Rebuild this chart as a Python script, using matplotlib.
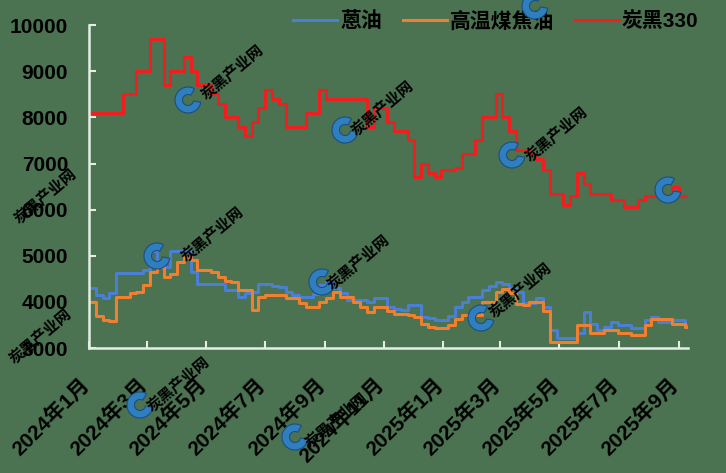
import numpy as np
import pandas as pd
import matplotlib
matplotlib.use('Agg')
import matplotlib.pyplot as plt
from matplotlib.patches import Wedge
from matplotlib.ticker import FuncFormatter
from matplotlib.transforms import ScaledTranslation
import matplotlib.dates as mdates

# --- data (weekly) ---
start_date = '2024-01-01'
series_names = ['蒽油', '高温煤焦油', '炭黑330']

anthracene_oil = [4300, 4150, 4080, 4200, 4620, 4620, 4620, 4620, 4700, 5100,
                  4800, 4750, 5100, 5100, 5100, 4650, 4400, 4400, 4400, 4400,
                  4260, 4260, 4110, 4200, 4220, 4400, 4400, 4350, 4330, 4220,
                  4150, 4110, 4110, 4180, 4370, 4440, 4300, 4190, 4040, 4040,
                  4040, 4000, 4080, 4080, 3900, 3850, 3830, 3930, 3930, 3680,
                  3650, 3610, 3610, 3700, 3900, 4000, 4110, 4110, 4260, 4350,
                  4440, 4390, 4300, 4220, 3970, 3970, 4080, 3900, 3400, 3210,
                  3210, 3210, 3320, 3790, 3530, 3390, 3460, 3570, 3500, 3500,
                  3430, 3430, 3610, 3680, 3570, 3570, 3610, 3610, 3500]

coal_tar = [4000, 3700, 3600, 3590, 4100, 4110, 4200, 4220, 4370, 4650,
            4760, 4550, 4600, 4870, 4980, 4900, 4690, 4690, 4650, 4550,
            4450, 4440, 4260, 4260, 3820, 4110, 4150, 4150, 4150, 4080,
            4080, 3970, 3900, 3900, 4000, 4080, 4220, 4110, 4110, 4000,
            3900, 3790, 3900, 3900, 3800, 3750, 3750, 3720, 3680, 3530,
            3460, 3430, 3430, 3500, 3640, 3720, 3720, 3720, 4000, 4000,
            4220, 4290, 4200, 3950, 3930, 4000, 4000, 3800, 3140, 3140,
            3140, 3140, 3500, 3500, 3320, 3320, 3390, 3390, 3320, 3320,
            3290, 3290, 3500, 3640, 3640, 3640, 3530, 3530, 3460]

carbon_black_330 = [8100, 8100, 8100, 8100, 8100, 8500, 8500, 9000, 9000, 9700,
                    9700, 8700, 9000, 9000, 9300, 9000, 8700, 8700, 8500, 8300,
                    8000, 8000, 7800, 7600, 7900, 8200, 8600, 8400, 8300, 7800,
                    7800, 7800, 8100, 8100, 8600, 8400, 8400, 8400, 8400, 8400,
                    8400, 7800, 8200, 8200, 7900, 7700, 7700, 7500, 6700, 7000,
                    6800, 6700, 6850, 6850, 6900, 7200, 7200, 7500, 8000, 8000,
                    8500, 8000, 7700, 7300, 7300, 7200, 7100, 6850, 6350, 6350,
                    6100, 6300, 6800, 6550, 6350, 6350, 6350, 6200, 6200, 6050,
                    6050, 6200, 6300, 6300, 6300, 6300, 6500, 6300, 6300]

y_ticks = [3000, 4000, 5000, 6000, 7000, 8000, 9000, 10000]
end_date = '2025-09-11'

# --- style ---
bg = '#4b7251'
axis_col = '#e4eee4'
colors = ['#4a7fd6', '#f08030', '#f01e1e']

plt.rcParams['font.family'] = ['Liberation Sans', 'Noto Sans CJK SC']

dates = pd.date_range(start_date, periods=len(carbon_black_330), freq='7D')
dates_ext = dates.append(pd.DatetimeIndex([pd.Timestamp(end_date)]))

fig = plt.figure(figsize=(7.26, 4.73), dpi=100, facecolor=bg)
ax = fig.add_axes([0.1226, 0.264, 0.8254, 0.683])
ax.set_facecolor(bg)

for vals, name, c in zip([anthracene_oil, coal_tar, carbon_black_330], series_names, colors):
    v = np.append(vals, vals[-1])
    ax.plot(dates_ext, v, drawstyle='steps-post', color=c, lw=2.2, label=name)

ax.set_ylim(3000, 10000)
ax.set_yticks(y_ticks)
ax.set_xlim(pd.Timestamp(start_date), pd.Timestamp(end_date))
ax.set_xticks(pd.date_range('2024-01-01', '2025-09-01', freq='2MS'))
ax.xaxis.set_major_formatter(FuncFormatter(
    lambda x, pos: f"{mdates.num2date(x).year}年{mdates.num2date(x).month}月"))

for s in ['top', 'right']:
    ax.spines[s].set_visible(False)
for s in ['left', 'bottom']:
    ax.spines[s].set_color(axis_col)
    ax.spines[s].set_linewidth(1.8)

ax.tick_params(axis='both', direction='in', length=5, width=1.5, color=axis_col)
ax.tick_params(axis='y', pad=15, labelsize=15)
ax.tick_params(axis='x', pad=19, labelsize=15)
for lb in ax.get_yticklabels():
    lb.set_fontweight('bold')
shift = ScaledTranslation(4 / 100, 0, fig.dpi_scale_trans)
for lb in ax.get_xticklabels():
    lb.set_rotation(45)
    lb.set_ha('right')
    lb.set_fontweight('bold')
    lb.set_transform(lb.get_transform() + shift)

ax.legend(loc='center right', bbox_to_anchor=(0.962, 0.955), bbox_transform=fig.transFigure,
          ncol=3, frameon=False, handlelength=2.1, handletextpad=0.15, columnspacing=1.0,
          borderaxespad=0, borderpad=0, prop={'size': 15, 'weight': 'bold'})

# --- watermarks ---
W, H = 726, 473
marks = [(232, 72), (382, 108), (556, 134), (45, 196), (212, 234),
         (358, 262), (520, 290), (40, 336), (178, 384), (336, 420)]
for x, y in marks:
    fig.text(x / W, 1 - y / H, '炭黑产业网', rotation=40, ha='center', va='center',
             fontsize=11, fontweight='bold', color='black', family=['Noto Sans CJK SC'])

logos = [(188, 100), (345, 130), (512, 155), (157, 256), (322, 282),
         (481, 318), (140, 405), (295, 437), (535, 6), (668, 190)]
for x, y in logos:
    fig.add_artist(Wedge((x / 100, (H - y) / 100), 0.13, 60, 350, width=0.075,
                         transform=fig.dpi_scale_trans, facecolor='#2f7fc0',
                         edgecolor='#1b4f80', lw=0.8))

fig.savefig('out.png', dpi=100, facecolor=bg)
